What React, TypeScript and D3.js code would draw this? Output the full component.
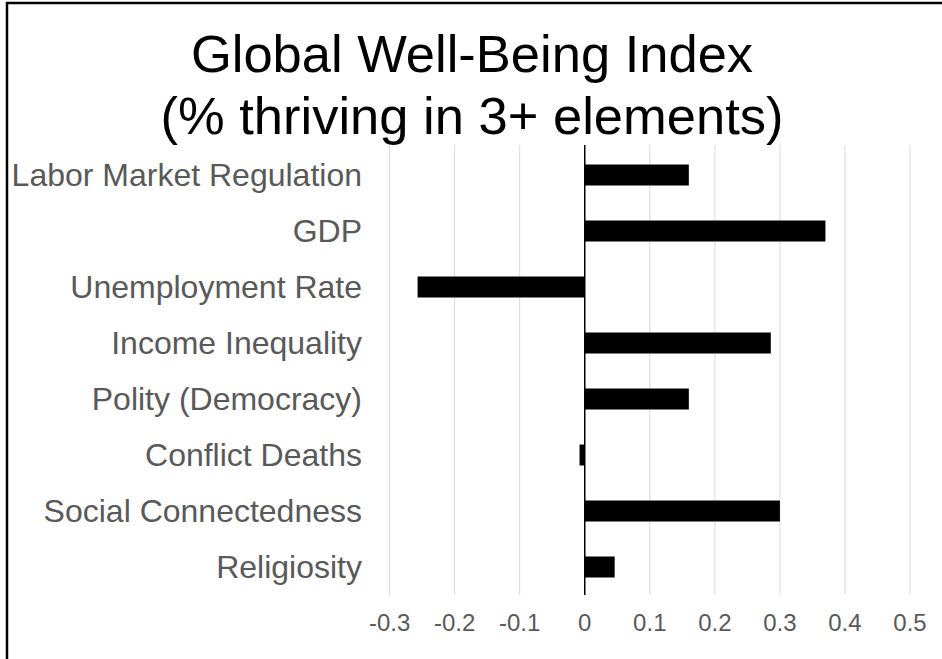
import React from "react";
import * as d3 from "d3";

const categories = [
  "Labor Market Regulation",
  "GDP",
  "Unemployment Rate",
  "Income Inequality",
  "Polity (Democracy)",
  "Conflict Deaths",
  "Social Connectedness",
  "Religiosity",
];
const values = [0.16, 0.37, -0.257, 0.286, 0.16, -0.008, 0.3, 0.046];
const tickValues = [-0.3, -0.2, -0.1, 0, 0.1, 0.2, 0.3, 0.4, 0.5];
const titleLines = ["Global Well-Being Index", "(% thriving in 3+ elements)"];

const W = 942;
const H = 659;
const FONT = "'Liberation Sans', Arial, sans-serif";

export default function App() {
  const x = d3.scaleLinear().domain([-0.3, 0.5]).range([389.6, 910]);
  const y = d3
    .scaleBand<string>()
    .domain(categories)
    .range([147, 595])
    .paddingInner(0.625)
    .paddingOuter(0.3125);
  const gridTop = 145;
  const gridBottom = 595;
  const fmt = (v: number) => d3.format("")(v).replace("\u2212", "-");

  return (
    <svg
      width={W}
      height={H}
      style={{ position: "absolute", left: 0, top: 0, background: "#fff" }}
      fontFamily={FONT}
    >
      <rect x={0} y={0} width={W} height={H} fill="#fff" />
      {/* frame */}
      <line x1={7} y1={2} x2={7} y2={H} stroke="#000" strokeWidth={2.5} />
      <line x1={6} y1={3} x2={W} y2={3} stroke="#000" strokeWidth={2.5} />

      {/* title */}
      {titleLines.map((t, i) => (
        <text
          key={t}
          x={472}
          y={72 + i * 62}
          textAnchor="middle"
          fontSize={52.5}
          fill="#000"
        >
          {t}
        </text>
      ))}

      {/* gridlines */}
      {tickValues
        .filter((v) => v !== 0)
        .map((v) => (
          <line
            key={v}
            x1={x(v)}
            x2={x(v)}
            y1={gridTop}
            y2={gridBottom}
            stroke="#d9d9d9"
            strokeWidth={1}
          />
        ))}

      {/* bars */}
      {categories.map((c, i) => {
        const v = values[i];
        const x0 = x(Math.min(0, v));
        const x1 = x(Math.max(0, v));
        return (
          <rect
            key={c}
            x={x0}
            y={y(c)!}
            width={x1 - x0}
            height={y.bandwidth()}
            fill="#000"
          />
        );
      })}

      {/* zero axis */}
      <line
        x1={x(0)}
        x2={x(0)}
        y1={gridTop}
        y2={gridBottom}
        stroke="#000"
        strokeWidth={1.5}
      />

      {/* category labels */}
      {categories.map((c) => (
        <text
          key={c}
          x={362}
          y={y(c)! + y.bandwidth() / 2 + 11}
          textAnchor="end"
          fontSize={32}
          fill="#595959"
        >
          {c}
        </text>
      ))}

      {/* tick labels */}
      {tickValues.map((v) => (
        <text
          key={v}
          x={x(v)}
          y={631}
          textAnchor="middle"
          fontSize={24}
          fill="#595959"
        >
          {fmt(v)}
        </text>
      ))}
    </svg>
  );
}
